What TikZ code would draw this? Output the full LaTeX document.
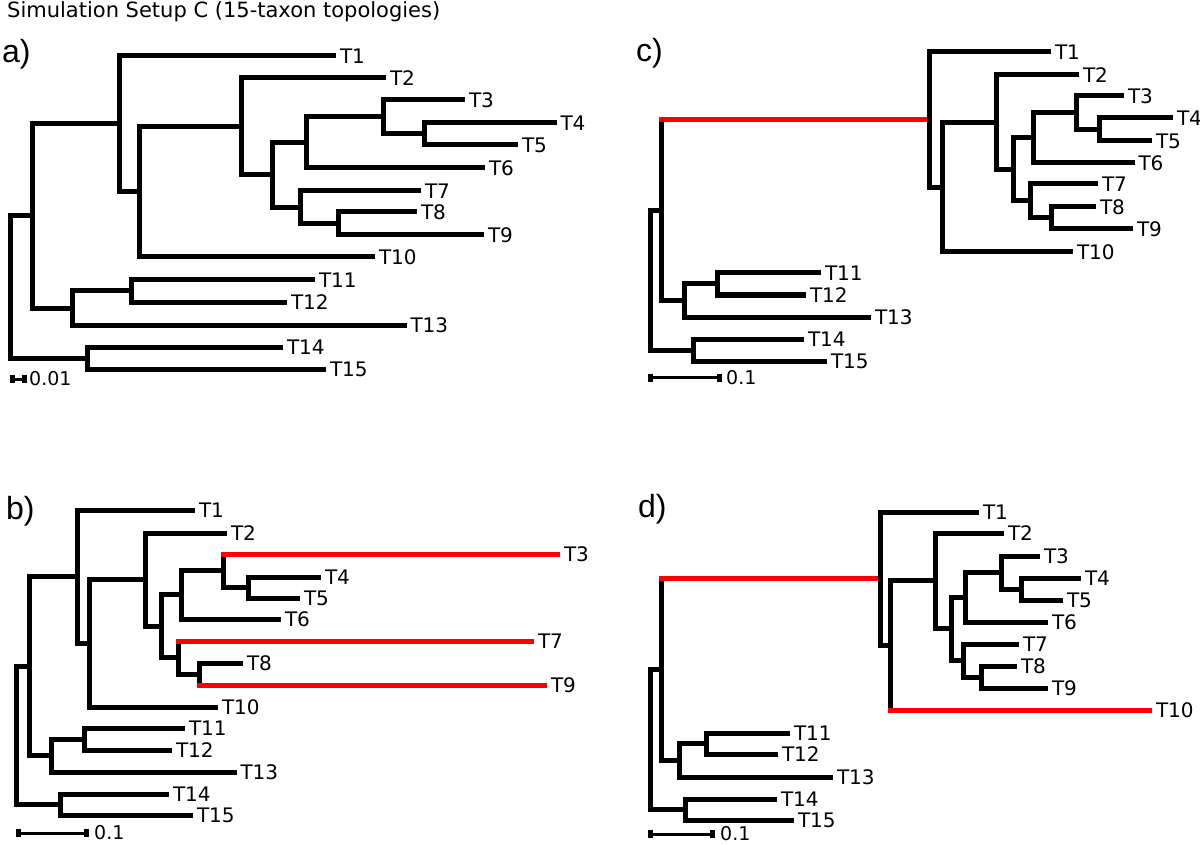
\documentclass[tikz,border=0pt]{standalone}
\usepackage{fontspec}
\setmainfont{DejaVu Sans}
\newfontfamily\panelfont{Liberation Sans}
\usetikzlibrary{calc, arrows.meta}

% child lists of the shared 15-taxon topology
\def\treeedges{n1/n2, n1/n3, n2/n4, n2/n5, n3/14, n3/15, n4/1, n4/n7, n5/n6, n5/13,
  n6/11, n6/12, n7/n8, n7/10, n8/2, n8/n9, n9/n10, n9/n13, n10/n11, n10/6,
  n11/3, n11/n12, n12/4, n12/5, n13/7, n13/n14, n14/8, n14/9}

\begin{document}
\begin{tikzpicture}[x=1pt, y=-1pt,
    branch/.style={line width=5pt, line join=miter},
    hl/.style={red, line width=5pt, shorten <=-2.5pt},
    tip/.style={anchor=west, inner sep=0pt, outer xsep=4pt, font=\fontsize{20}{24}\selectfont},
    letter/.style={anchor=base west, inner sep=0pt, font=\panelfont\fontsize{32}{38}\selectfont},
    sbar/.style={line width=3pt, {Square[length=5pt,width=8pt]}-{Square[length=5pt,width=8pt]}},
    sblab/.style={anchor=west, inner sep=0pt, font=\fontsize{19}{23}\selectfont}
  ]
  \useasboundingbox (0,0) rectangle (1200,845);

  \node[anchor=base west, inner sep=0pt, font=\fontsize{21}{25}\selectfont] (title) at (7,17.5)
    {Simulation Setup C (15-taxon topologies)};

  % a) tips and inner nodes
  \node[letter] (lab-a) at (2,63) {a)};
  \foreach \i/\x/\y in {1/336/56, 2/386/78, 3/465/100, 4/556.5/123, 5/518/145, 6/485/168,
      7/421/191, 8/417/212, 9/484/235, 10/375/257, 11/315/280, 12/287/302, 13/406.5/325,
      14/283/347, 15/326/369}
    \node[tip] (a-\i) at (\x,\y) {T\i};
  \foreach \nd/\nx/\ca/\cb in {n12/424.5/4/5, n11/383.5/3/n12, n10/306/n11/6, n14/338.5/8/9,
      n13/300/7/n14, n9/272/n10/n13, n8/241.5/2/n9, n7/139/n8/10, n4/119/1/n7,
      n6/131.5/11/12, n5/72.3/n6/13, n2/32.7/n4/n5, n3/87.7/14/15, n1/10.8/n2/n3}
    \path let \p1=($(a-\ca)!.5!(a-\cb)$) in (\nx pt,\y1) coordinate (a-\nd);
  \coordinate (a-s0) at (9.5,379);
  \coordinate (a-s1) at (27,379);
  \node[sblab] (a-sl) at (29,379) {0.01};

  % b)
  \node[letter] (lab-b) at (6,519) {b)};
  \foreach \i/\x/\y in {1/195/510, 2/227/533, 3/560/554, 4/321/577, 5/300/598, 6/281/619,
      7/534/641, 8/243/663, 9/547/685, 10/218/707, 11/185/728, 12/172/750, 13/236.5/772,
      14/169/794, 15/193/815}
    \node[tip] (b-\i) at (\x,\y) {T\i};
  \foreach \nd/\nx/\ca/\cb in {n12/248/4/5, n11/223/3/n12, n10/181/n11/6, n14/199/8/9,
      n13/178/7/n14, n9/161.5/n10/n13, n8/145/2/n9, n7/89/n8/10, n4/77/1/n7,
      n6/84/11/12, n5/51/n6/13, n2/29/n4/n5, n3/60/14/15, n1/16/n2/n3}
    \path let \p1=($(b-\ca)!.5!(b-\cb)$) in (\nx pt,\y1) coordinate (b-\nd);
  \coordinate (b-s0) at (16,833);
  \coordinate (b-s1) at (89,833);
  \node[sblab] (b-sl) at (94,833) {0.1};

  % c)
  \node[letter] (lab-c) at (636,62) {c)};
  \foreach \i/\x/\y in {1/1051/52, 2/1079/75, 3/1124/96, 4/1173/118, 5/1152/141, 6/1134.5/163,
      7/1098/184, 8/1096/207, 9/1133/229, 10/1073/252, 11/821/273, 12/806/295, 13/871/317,
      14/804/339, 15/827/361}
    \node[tip] (c-\i) at (\x,\y) {T\i};
  \foreach \nd/\nx/\ca/\cb in {n12/1099/4/5, n11/1076/3/n12, n10/1033/n11/6, n14/1051/8/9,
      n13/1030/7/n14, n9/1013.5/n10/n13, n8/996/2/n9, n7/942/n8/10, n4/929/1/n7,
      n6/717/11/12, n5/684.5/n6/13, n2/661.5/n4/n5, n3/693.5/14/15, n1/650/n2/n3}
    \path let \p1=($(c-\ca)!.5!(c-\cb)$) in (\nx pt,\y1) coordinate (c-\nd);
  \coordinate (c-s0) at (648,377.5);
  \coordinate (c-s1) at (722,377.5);
  \node[sblab] (c-sl) at (726,377.5) {0.1};

  % d)
  \node[letter] (lab-d) at (638,517) {d)};
  \foreach \i/\x/\y in {1/979/512, 2/1004/533, 3/1040/556, 4/1081/578, 5/1063/600, 6/1048/622,
      7/1019/644, 8/1017/666, 9/1048/688, 10/1152/710, 11/790/733, 12/778/754, 13/833/777,
      14/777/799, 15/794/820}
    \node[tip] (d-\i) at (\x,\y) {T\i};
  \foreach \nd/\nx/\ca/\cb in {n12/1021/4/5, n11/1001/3/n12, n10/965/n11/6, n14/981/8/9,
      n13/963.5/7/n14, n9/951/n10/n13, n8/935/2/n9, n7/890/n8/10, n4/880/1/n7,
      n6/706/11/12, n5/679/n6/13, n2/661/n4/n5, n3/685/14/15, n1/650/n2/n3}
    \path let \p1=($(d-\ca)!.5!(d-\cb)$) in (\nx pt,\y1) coordinate (d-\nd);
  \coordinate (d-s0) at (648,834);
  \coordinate (d-s1) at (715,834);
  \node[sblab] (d-sl) at (720,834) {0.1};

  % branches, scale bars
  \foreach \t in {a,b,c,d} {
    \foreach \p/\c in \treeedges
      \draw[branch] (\t-\p) |- (\t-\c);
    \draw[sbar] (\t-s0) -- (\t-s1);
  }

  % red branches
  \foreach \t/\p/\c in {b/n11/3, b/n13/7, b/n14/9, d/n7/10}
    \draw[hl] (\t-\p |- \t-\c) -- (\t-\c);
  \draw[hl, shorten >=2.5pt] (c-n2 |- c-n4) -- (c-n4);
  \draw[hl, shorten >=2.5pt] (d-n2 |- d-n4) -- (d-n4);
\end{tikzpicture}
\end{document}
